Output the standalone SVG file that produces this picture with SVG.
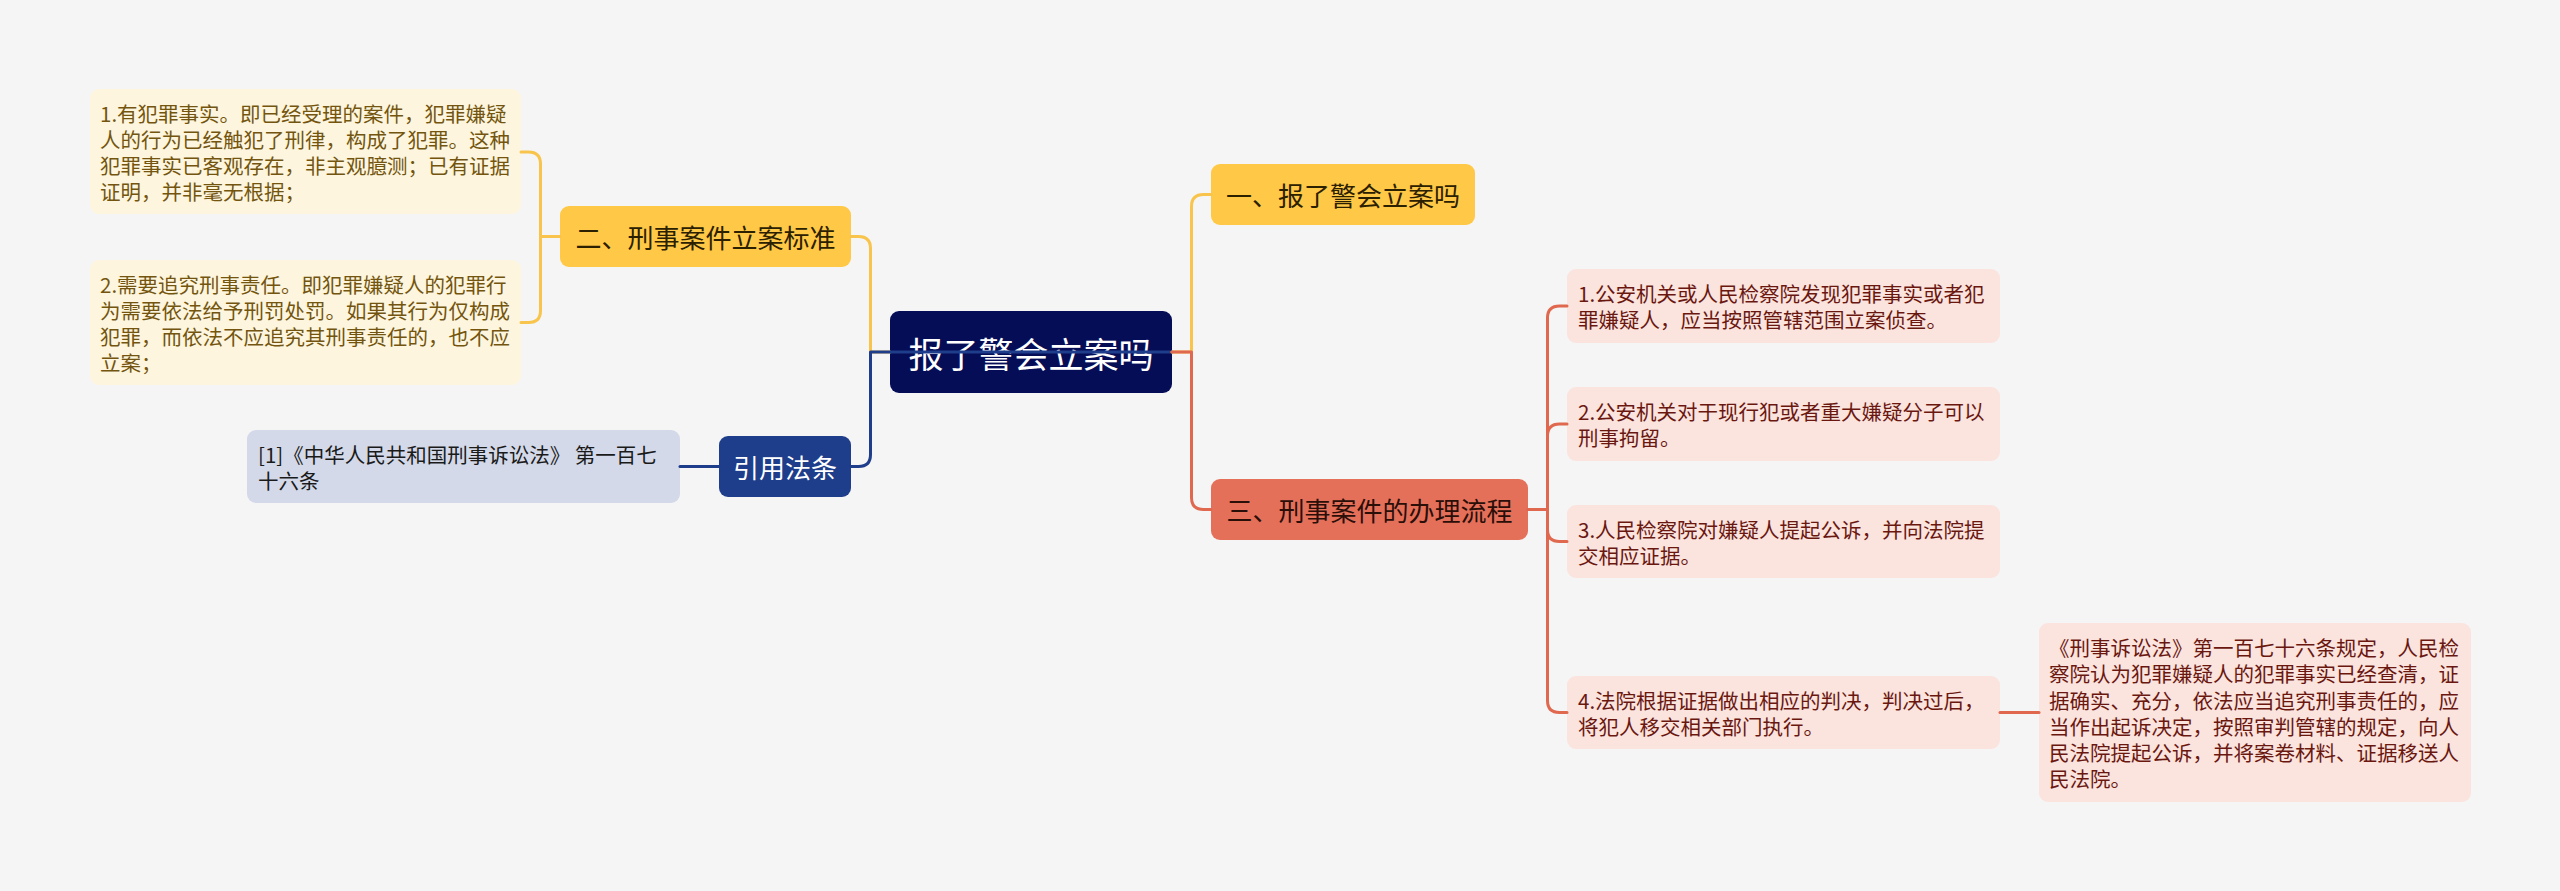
<svg xmlns="http://www.w3.org/2000/svg" width="2560" height="891" viewBox="0 0 2560 891">
<style>
text{font-family:"Noto Sans CJK SC","Noto Sans",sans-serif;dominant-baseline:central}
.c{fill:none;stroke-width:3;stroke-linecap:round;stroke-linejoin:round}
.cy{stroke:#F8C44C}.cb{stroke:#1E3D8A}.cr{stroke:#E0684F}
.t26{font-size:26px;text-anchor:middle}
.lf{font-size:20.5px}
.ly{fill:#FEF5DE}.lyt{fill:#73550F}
.lb{fill:#D3D9E8}.lbt{fill:#1A1A1A}
.lr{fill:#FBE3DE}.lrt{fill:#6A1710}
</style>
<rect x="0" y="0" width="2560" height="891" fill="#F5F5F5"/>
<g id="root">
<rect x="890" y="311" width="282" height="82" rx="9" fill="#060D57"/>
<text x="1031" y="352" font-size="35" text-anchor="middle" fill="#FFFFFF">报了警会立案吗</text>
</g>
<g id="n-biaozhun">
<rect x="560" y="206" width="291" height="61" rx="9" fill="#FFC846"/>
<text class="t26" x="705.5" y="236.5" fill="#2B2000">二、刑事案件立案标准</text>
</g>
<g id="leaf-y1">
<rect class="ly" x="90" y="89" width="431" height="125" rx="9"/>
<text class="lf lyt" x="100" y="112.5">1.有犯罪事实。即已经受理的案件，犯罪嫌疑</text>
<text class="lf lyt" x="100" y="138.5">人的行为已经触犯了刑律，构成了犯罪。这种</text>
<text class="lf lyt" x="100" y="164.5">犯罪事实已客观存在，非主观臆测；已有证据</text>
<text class="lf lyt" x="100" y="190.5">证明，并非毫无根据；</text>
</g>
<g id="leaf-y2">
<rect class="ly" x="90" y="260" width="431" height="125" rx="9"/>
<text class="lf lyt" x="100" y="283.5">2.需要追究刑事责任。即犯罪嫌疑人的犯罪行</text>
<text class="lf lyt" x="100" y="309.5">为需要依法给予刑罚处罚。如果其行为仅构成</text>
<text class="lf lyt" x="100" y="335.5">犯罪，而依法不应追究其刑事责任的，也不应</text>
<text class="lf lyt" x="100" y="361.5">立案；</text>
</g>
<g id="n-fatiao">
<rect x="719" y="436" width="132" height="61" rx="9" fill="#1E3D8A"/>
<text class="t26" x="785" y="466.5" fill="#FFFFFF">引用法条</text>
</g>
<g id="leaf-b1">
<rect class="lb" x="247" y="430" width="433" height="73" rx="9"/>
<text class="lf lbt" x="258" y="453.5">[1]《中华人民共和国刑事诉讼法》 第一百七</text>
<text class="lf lbt" x="258" y="479.5">十六条</text>
</g>
<g id="n-yi">
<rect x="1211" y="164" width="264" height="61" rx="9" fill="#FFC846"/>
<text class="t26" x="1343" y="194.5" fill="#2B2000">一、报了警会立案吗</text>
</g>
<g id="n-san">
<rect x="1211" y="479" width="317" height="61" rx="9" fill="#E5705A"/>
<text class="t26" x="1369.5" y="509.5" fill="#2A0E08">三、刑事案件的办理流程</text>
</g>
<g id="leaf-r1">
<rect class="lr" x="1567" y="269" width="433" height="74" rx="9"/>
<text class="lf lrt" x="1578" y="293">1.公安机关或人民检察院发现犯罪事实或者犯</text>
<text class="lf lrt" x="1578" y="319">罪嫌疑人，应当按照管辖范围立案侦查。</text>
</g>
<g id="leaf-r2">
<rect class="lr" x="1567" y="387" width="433" height="74" rx="9"/>
<text class="lf lrt" x="1578" y="411">2.公安机关对于现行犯或者重大嫌疑分子可以</text>
<text class="lf lrt" x="1578" y="437">刑事拘留。</text>
</g>
<g id="leaf-r3">
<rect class="lr" x="1567" y="505" width="433" height="73" rx="9"/>
<text class="lf lrt" x="1578" y="528.5">3.人民检察院对嫌疑人提起公诉，并向法院提</text>
<text class="lf lrt" x="1578" y="554.5">交相应证据。</text>
</g>
<g id="leaf-r4">
<rect class="lr" x="1567" y="676" width="433" height="73" rx="9"/>
<text class="lf lrt" x="1578" y="699.5">4.法院根据证据做出相应的判决，判决过后，</text>
<text class="lf lrt" x="1578" y="725.5">将犯人移交相关部门执行。</text>
</g>
<g id="leaf-r5">
<rect class="lr" x="2039" y="623" width="432" height="179" rx="9"/>
<text class="lf lrt" x="2049" y="647">《刑事诉讼法》第一百七十六条规定，人民检</text>
<text class="lf lrt" x="2049" y="673.2">察院认为犯罪嫌疑人的犯罪事实已经查清，证</text>
<text class="lf lrt" x="2049" y="699.5">据确实、充分，依法应当追究刑事责任的，应</text>
<text class="lf lrt" x="2049" y="725.7">当作出起诉决定，按照审判管辖的规定，向人</text>
<text class="lf lrt" x="2049" y="752">民法院提起公诉，并将案卷材料、证据移送人</text>
<text class="lf lrt" x="2049" y="778.2">民法院。</text>
</g>
<g id="connectors">
<path class="c cy" d="M890 352 H870.5 V248.5 Q870.5 236.5 858.5 236.5 H851"/>
<path class="c cb" d="M1172 352 H870.5 V454.5 Q870.5 466.5 858.5 466.5 H851"/>
<path class="c cy" d="M560 236.5 H540.5 V164 Q540.5 152 528.5 152 H521"/>
<path class="c cy" d="M560 236.5 H540.5 V310.5 Q540.5 322.5 528.5 322.5 H521"/>
<path class="c cb" d="M719 466.5 H680"/>
<path class="c cy" d="M1172 352 H1191.5 V206.5 Q1191.5 194.5 1203.5 194.5 H1211"/>
<path class="c cr" d="M1172 352 H1191.5 V497.5 Q1191.5 509.5 1203.5 509.5 H1211"/>
<path class="c cr" d="M1528 509.5 H1547.5 V318 Q1547.5 306 1559.5 306 H1567"/>
<path class="c cr" d="M1528 509.5 H1547.5 V436 Q1547.5 424 1559.5 424 H1567"/>
<path class="c cr" d="M1528 509.5 H1547.5 V529.5 Q1547.5 541.5 1559.5 541.5 H1567"/>
<path class="c cr" d="M1528 509.5 H1547.5 V700.5 Q1547.5 712.5 1559.5 712.5 H1567"/>
<path class="c cr" d="M2000 712.5 H2039"/>
</g>
</svg>
